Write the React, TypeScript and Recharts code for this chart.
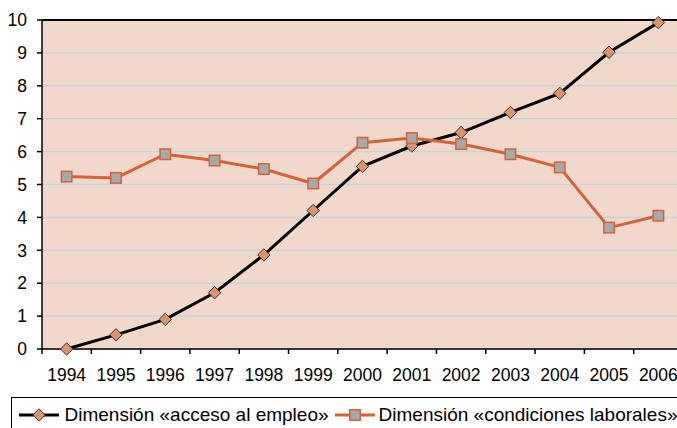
import React from "react";
import { LineChart, Line, XAxis, YAxis, CartesianGrid, ReferenceLine, Legend } from "recharts";

const years = ["1994", "1995", "1996", "1997", "1998", "1999", "2000", "2001", "2002", "2003", "2004", "2005", "2006"];
const acceso = [0, 0.43, 0.9, 1.71, 2.86, 4.21, 5.55, 6.17, 6.58, 7.19, 7.77, 9.02, 9.92];
const condiciones = [5.24, 5.2, 5.92, 5.73, 5.47, 5.03, 6.27, 6.41, 6.23, 5.92, 5.52, 3.69, 4.05];
const yTicks = [0, 1, 2, 3, 4, 5, 6, 7, 8, 9, 10];
const boundaryTicks = [0, 1, 2, 3, 4, 5, 6, 7, 8, 9, 10, 11, 12, 13];

const NAME_A = "Dimensión «acceso al empleo»";
const NAME_B = "Dimensión «condiciones laborales»";

const data = years.map((y, i) => ({ x: i + 0.5, year: y, acceso: acceso[i], condiciones: condiciones[i] }));

const PLOT_W = 641;
const BAND = PLOT_W / years.length;
const FONT = "Liberation Sans, Arial, sans-serif";
const ORANGE = "#D2643C";
const DIAMOND_FILL = "#DB946E";
const SQUARE_FILL = "#A8A8A8";

const XTick = (props: any) => {
  const { x, y, payload } = props;
  const i = payload.value;
  if (i >= years.length) return null;
  return (
    <text x={x + BAND / 2} y={y + 25} textAnchor="middle" fontFamily={FONT} fontSize={17.5} fill="#000">
      {years[i]}
    </text>
  );
};

const Diamond = (props: any) => {
  const { cx, cy } = props;
  if (cx == null || cy == null) return null;
  const r = 6.2;
  return (
    <polygon
      points={`${cx},${cy - r} ${cx + r},${cy} ${cx},${cy + r} ${cx - r},${cy}`}
      fill={DIAMOND_FILL}
      stroke="#333"
      strokeWidth={1}
    />
  );
};

const Square = (props: any) => {
  const { cx, cy } = props;
  if (cx == null || cy == null) return null;
  const s = 10.5;
  return <rect x={cx - s / 2} y={cy - s / 2} width={s} height={s} fill={SQUARE_FILL} stroke={ORANGE} strokeWidth={1.5} />;
};

const LegendContent = () => (
  <div
    style={{
      width: 720,
      height: 36,
      border: "1.5px solid #000",
      boxSizing: "border-box",
      display: "flex",
      alignItems: "center",
      fontFamily: FONT,
      fontSize: 19,
      color: "#000",
      whiteSpace: "nowrap",
    }}
  >
    <svg width={54} height={20} style={{ marginLeft: 6, flexShrink: 0 }}>
      <line x1={1} y1={10} x2={41} y2={10} stroke="#000" strokeWidth={3} />
      <Diamond cx={21} cy={10} />
    </svg>
    <span style={{ marginLeft: -7.5 }}>{NAME_A}</span>
    <svg width={44} height={20} style={{ marginLeft: 5, flexShrink: 0 }}>
      <line x1={1} y1={10} x2={41} y2={10} stroke={ORANGE} strokeWidth={3} />
      <Square cx={21} cy={10} />
    </svg>
    <span style={{ marginLeft: 1 }}>{NAME_B}</span>
  </div>
);

export default function App() {
  return (
    <div style={{ position: "absolute", left: 0, top: 0, width: 677, height: 428, overflow: "hidden", background: "#fff" }}>
      <LineChart width={700} height={428} data={data} margin={{ top: 20, right: 17, left: 0, bottom: 0 }}>
        <CartesianGrid horizontal vertical={false} stroke="#C9D3DB" strokeWidth={1.5} fill="#F2D8CA" />
        <XAxis
          dataKey="x"
          type="number"
          domain={[0, 13]}
          ticks={boundaryTicks}
          interval={0}
          height={79}
          tick={<XTick />}
          tickSize={5}
          tickLine={{ stroke: "#000", strokeWidth: 1.5 }}
          axisLine={{ stroke: "#000", strokeWidth: 1.5 }}
          allowDataOverflow
        />
        <YAxis
          width={42}
          domain={[0, 10]}
          ticks={yTicks}
          interval={0}
          tickSize={5}
          tickMargin={10}
          tick={{ fontFamily: FONT, fontSize: 17.5, fill: "#000" }}
          tickLine={{ stroke: "#000", strokeWidth: 1.5 }}
          axisLine={{ stroke: "#000", strokeWidth: 1.5 }}
        />
        <ReferenceLine y={10} stroke="#000" strokeWidth={2} />
        <Legend
          layout="horizontal"
          verticalAlign="middle"
          align="center"
          wrapperStyle={{ position: "absolute", left: 11, top: 397, width: 720 }}
          content={<LegendContent />}
        />
        <Line
          type="linear"
          dataKey="acceso"
          name={NAME_A}
          stroke="#000"
          strokeWidth={3}
          dot={<Diamond />}
          activeDot={false}
          isAnimationActive={false}
        />
        <Line
          type="linear"
          dataKey="condiciones"
          name={NAME_B}
          stroke={ORANGE}
          strokeWidth={3}
          dot={<Square />}
          activeDot={false}
          isAnimationActive={false}
        />
      </LineChart>
    </div>
  );
}
